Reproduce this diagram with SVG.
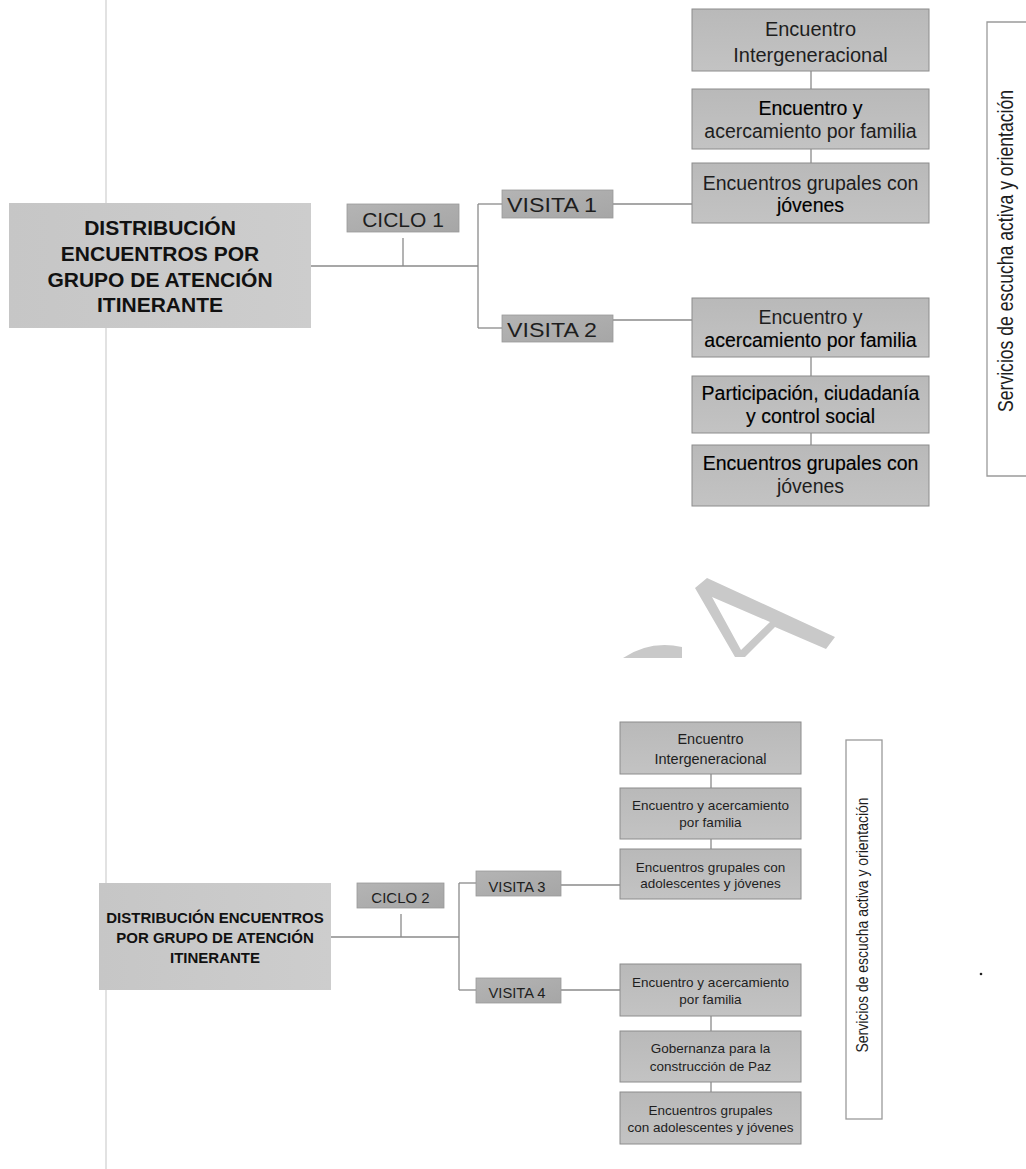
<svg xmlns="http://www.w3.org/2000/svg" width="1026" height="1169" viewBox="0 0 1026 1169">
<defs>
<linearGradient id="gBox" x1="0" y1="0" x2="0" y2="1">
<stop offset="0" stop-color="#b9b9b9"/><stop offset="1" stop-color="#c3c3c3"/>
</linearGradient>
<linearGradient id="gTag" x1="0" y1="0" x2="1" y2="1">
<stop offset="0" stop-color="#b4b4b4"/><stop offset="1" stop-color="#a6a6a6"/>
</linearGradient>
<linearGradient id="gMain" x1="0" y1="0" x2="1" y2="0">
<stop offset="0" stop-color="#c6c6c6"/><stop offset="1" stop-color="#cdcdcd"/>
</linearGradient>
</defs>
<style>
.box{fill:url(#gBox);stroke:#8c8c8c;stroke-width:1}
.tag{fill:url(#gTag);stroke:#9a9a9a;stroke-width:0.8}
.main{fill:url(#gMain);stroke:none}
.svc{fill:none;stroke:#9a9a9a;stroke-width:1.3}
text{font-family:"Liberation Sans",Arial,sans-serif;fill:#1e1e1e;text-anchor:middle}
.mt{font-weight:bold;font-size:21px;fill:#111}
.mb{font-weight:bold;font-size:15px;fill:#111}
.t1{font-size:19.5px}
.t2{font-size:13.5px}
.dk{fill:#000;stroke:#000;stroke-width:0.15}
.con line{stroke:#8a8a8a;stroke-width:1.3;fill:none}
</style>
<rect width="1026" height="1169" fill="#ffffff"/>
<!-- page margin line and watermark -->
<line x1="106" y1="0" x2="106" y2="1169" stroke="#cfcfcf" stroke-width="1.2"/>
<path d="M695,588 L707,578 L835,637 L826,649 L775,627 L745,657 L735,657 Z M712,597 L770,622 L741,650 Z" fill="#c9c9c9" fill-rule="evenodd"/>
<path d="M623,658 Q650,640 682,647 L682,658 Z" fill="#c9c9c9"/>

<!-- connectors -->
<g id="connectors" class="con">
<line x1="311" y1="266" x2="478" y2="266"/>
<line x1="403" y1="238" x2="403" y2="266"/>
<line x1="478" y1="204" x2="478" y2="328"/>
<line x1="478" y1="204" x2="502" y2="204"/>
<line x1="478" y1="328" x2="502" y2="328"/>
<line x1="613" y1="204" x2="692" y2="204"/>
<line x1="613" y1="320" x2="692" y2="320"/>
<line x1="811" y1="71" x2="811" y2="89"/>
<line x1="811" y1="149" x2="811" y2="163"/>
<line x1="811" y1="357" x2="811" y2="376"/>
<line x1="811" y1="433" x2="811" y2="445"/>

<line x1="331" y1="937" x2="459" y2="937"/>
<line x1="401" y1="914" x2="401" y2="937"/>
<line x1="459" y1="883" x2="459" y2="990"/>
<line x1="459" y1="883" x2="476" y2="883"/>
<line x1="459" y1="990" x2="476" y2="990"/>
<line x1="561" y1="885" x2="620" y2="885"/>
<line x1="561" y1="990" x2="620" y2="990"/>
<line x1="711" y1="774" x2="711" y2="788"/>
<line x1="711" y1="839" x2="711" y2="849"/>
<line x1="711" y1="1016" x2="711" y2="1031"/>
<line x1="711" y1="1082" x2="711" y2="1092"/>
</g>

<!-- top diagram -->
<g id="main1">
<rect class="main" x="9" y="203" width="302" height="125"/>
<text class="mt" x="160" y="235">DISTRIBUCIÓN</text>
<text class="mt" x="160" y="261">ENCUENTROS POR</text>
<text class="mt" x="160" y="287">GRUPO DE ATENCIÓN</text>
<text class="mt" x="160" y="312">ITINERANTE</text>
</g>
<g id="ciclo1">
<rect class="tag" x="347" y="204" width="112" height="28"/>
<text x="403" y="227" font-size="21">CICLO 1</text>
</g>
<g id="visita1">
<rect class="tag" x="502" y="190" width="111" height="28"/>
<text x="552" y="212" font-size="21" textLength="90" lengthAdjust="spacingAndGlyphs">VISITA 1</text>
</g>
<g id="visita2">
<rect class="tag" x="502" y="315" width="111" height="27"/>
<text x="552" y="337" font-size="21" textLength="90" lengthAdjust="spacingAndGlyphs">VISITA 2</text>
</g>
<g id="n1a">
<rect class="box" x="692" y="9" width="237" height="62"/>
<text x="810.5" y="36" font-size="20">Encuentro</text>
<text x="810.5" y="62" font-size="20">Intergeneracional</text>
</g>
<g id="n1b">
<rect class="box" x="692" y="89" width="237" height="60"/>
<text class="t1 dk" x="810.5" y="115">Encuentro y</text>
<text class="t1" x="810.5" y="138">acercamiento por familia</text>
</g>
<g id="n1c">
<rect class="box" x="692" y="163" width="237" height="60"/>
<text class="t1" x="810.5" y="190">Encuentros grupales con</text>
<text class="t1 dk" x="810.5" y="212">jóvenes</text>
</g>
<g id="n1d">
<rect class="box" x="692" y="298" width="237" height="59"/>
<text class="t1" x="810.5" y="324">Encuentro y</text>
<text class="t1 dk" x="810.5" y="347">acercamiento por familia</text>
</g>
<g id="n1e">
<rect class="box" x="692" y="376" width="237" height="57"/>
<text class="t1 dk" x="810.5" y="400">Participación, ciudadanía</text>
<text class="t1 dk" x="810.5" y="423">y control social</text>
</g>
<g id="n1f">
<rect class="box" x="692" y="445" width="237" height="61"/>
<text class="t1 dk" x="810.5" y="470">Encuentros grupales con</text>
<text class="t1" x="810.5" y="493">jóvenes</text>
</g>
<g id="servicios1">
<path class="svc" d="M1026,22 H987 V476 H1026"/>
<text transform="translate(1013,251) rotate(-90)" font-size="22" textLength="322" lengthAdjust="spacingAndGlyphs">Servicios de escucha activa y orientación</text>
</g>

<!-- bottom diagram -->
<g id="main2">
<rect class="main" x="99" y="883" width="232" height="107"/>
<text class="mb" x="215" y="923">DISTRIBUCIÓN ENCUENTROS</text>
<text class="mb" x="215" y="943">POR GRUPO DE ATENCIÓN</text>
<text class="mb" x="215" y="963">ITINERANTE</text>
</g>
<g id="ciclo2">
<rect class="tag" x="357" y="883" width="87" height="25"/>
<text x="400.5" y="903" font-size="15">CICLO 2</text>
</g>
<g id="visita3">
<rect class="tag" x="476" y="871" width="85" height="25"/>
<text x="517" y="892" font-size="15" textLength="57" lengthAdjust="spacingAndGlyphs">VISITA 3</text>
</g>
<g id="visita4">
<rect class="tag" x="476" y="978" width="85" height="25"/>
<text x="517" y="998" font-size="15" textLength="57" lengthAdjust="spacingAndGlyphs">VISITA 4</text>
</g>
<g id="n2a">
<rect class="box" x="620" y="722" width="181" height="52"/>
<text x="710.5" y="744" font-size="14.5">Encuentro</text>
<text x="710.5" y="764" font-size="14.5">Intergeneracional</text>
</g>
<g id="n2b">
<rect class="box" x="620" y="788" width="181" height="51"/>
<text class="t2" x="710.5" y="810">Encuentro y acercamiento</text>
<text class="t2" x="710.5" y="827">por familia</text>
</g>
<g id="n2c">
<rect class="box" x="620" y="849" width="181" height="50"/>
<text class="t2" x="710.5" y="872">Encuentros grupales con</text>
<text class="t2" x="710.5" y="888">adolescentes y jóvenes</text>
</g>
<g id="n2d">
<rect class="box" x="620" y="964" width="181" height="52"/>
<text class="t2" x="710.5" y="987">Encuentro y acercamiento</text>
<text class="t2" x="710.5" y="1004">por familia</text>
</g>
<g id="n2e">
<rect class="box" x="620" y="1031" width="181" height="51"/>
<text class="t2" x="710.5" y="1053">Gobernanza para la</text>
<text class="t2" x="710.5" y="1071">construcción de Paz</text>
</g>
<g id="n2f">
<rect class="box" x="620" y="1092" width="181" height="52"/>
<text class="t2" x="710.5" y="1115">Encuentros grupales</text>
<text class="t2" x="710.5" y="1132">con adolescentes y jóvenes</text>
</g>
<g id="servicios2">
<rect class="svc" x="846" y="740" width="36" height="379"/>
<text transform="translate(868,925) rotate(-90)" font-size="17" textLength="255" lengthAdjust="spacingAndGlyphs">Servicios de escucha activa y orientación</text>
</g>
<circle cx="981" cy="974" r="1.3" fill="#222"/>
</svg>
